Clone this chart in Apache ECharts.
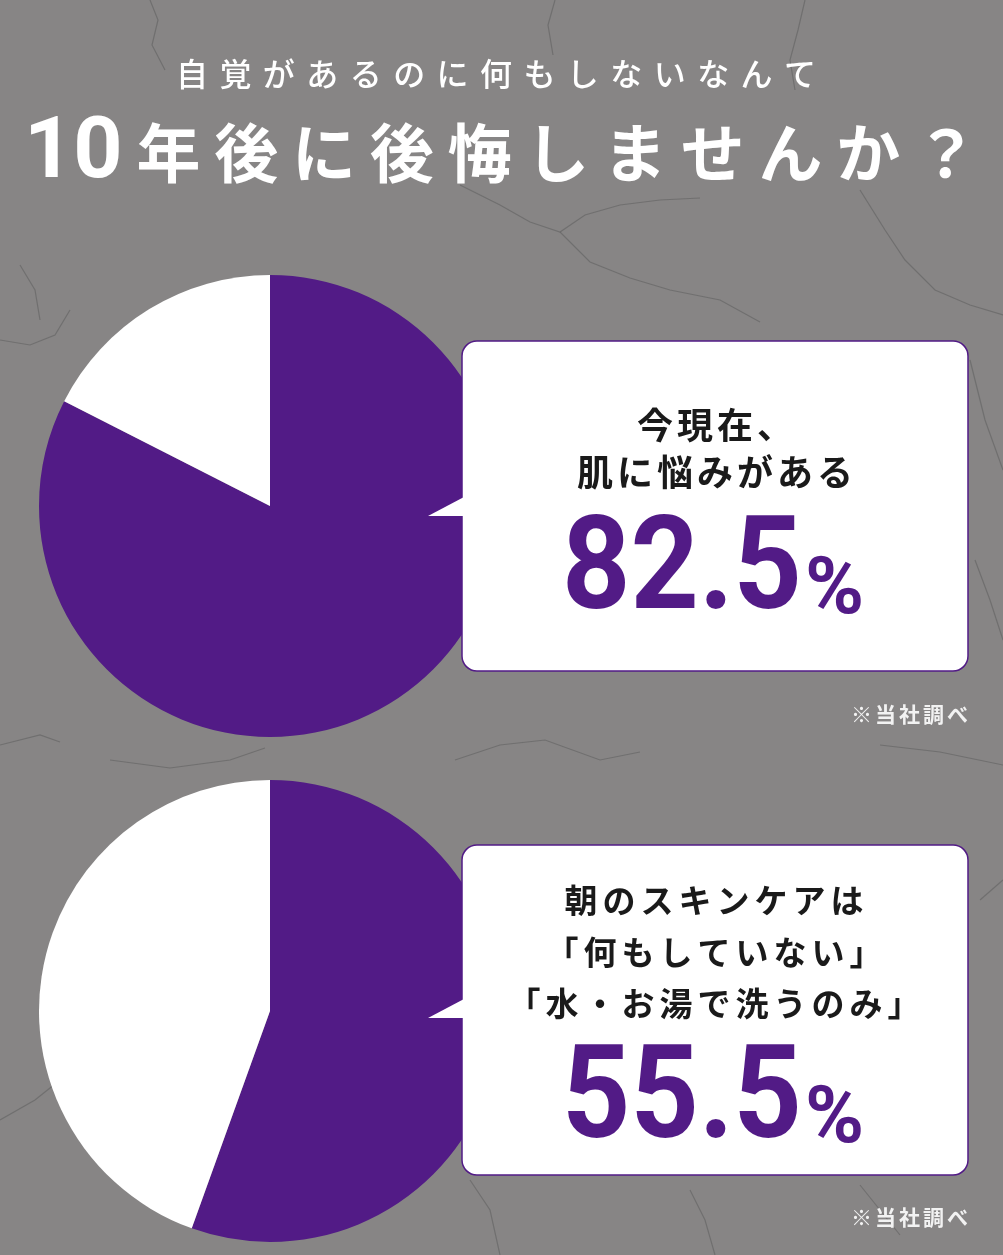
<!DOCTYPE html>
<html><head><meta charset="utf-8">
<script src="https://cdn.jsdelivr.net/npm/echarts@6/dist/echarts.min.js"></script>
<style>html,body{margin:0;padding:0;background:#878585;}#chart{width:1003px;height:1255px;}</style>
</head><body><div id="chart"></div>
<script>
// ---- data ----
const headline = ['自覚があるのに何もしないなんて', '10年後に後悔しませんか？'];
const sliceNames = ['該当する', '該当しない'];
const survey1Values = [82.5, 17.5];
const survey2Values = [55.5, 44.5];
const question1Lines = ['今現在、', '肌に悩みがある'];
const question2Lines = ['朝のスキンケアは', '「何もしていない」', '「水・お湯で洗うのみ」'];
const sourceNote = '※当社調べ';

// ---- styles ----
const PURPLE = '#521b86';
const BG = '#878585';
const JP = '"Noto Sans CJK JP", "Noto Sans", sans-serif';
const NUM = 'Roboto, "Noto Sans", sans-serif';

const ctx = document.createElement('canvas').getContext('2d');
function measure(text, font){ ctx.font = font; return ctx.measureText(text).width; }

function spacedText(str, o) {
  const font = (o.weight || 'normal') + ' ' + o.size + 'px ' + (o.family || JP);
  const numFont = o.numSize ? ('bold ' + o.numSize + 'px ' + NUM) : font;
  const tokens = o.numSize ? str.match(/[0-9]+|./gu) : Array.from(str);
  const fonts = tokens.map(t => /^[0-9]+$/.test(t) ? numFont : font);
  const widths = tokens.map((t, i) => measure(t, fonts[i]));
  const sum = widths.reduce((a, b) => a + b, 0);
  let spacing = o.spacing || 0;
  if (o.width) spacing = (o.width - sum) / (tokens.length - 1);
  const total = sum + spacing * (tokens.length - 1);
  const start = o.align === 'left' ? o.x : (o.align === 'right' ? o.x - total : o.x - total / 2);
  const out = [];
  let pos = start;
  tokens.forEach((t, i) => {
    const isNum = fonts[i] !== font;
    out.push({type: 'text', z: 100, x: pos, y: o.y + (isNum ? (o.numDy || 0) : 0), silent: true,
      style: {text: t, font: fonts[i], fill: o.color, textAlign: 'left', textVerticalAlign: 'middle', align: 'left', verticalAlign: 'middle'}});
    pos += widths[i] + spacing;
  });
  return out;
}

function callout(top, bottom, tipY) {
  return [
    {type: 'rect', z: 50, silent: true, shape: {x: 462, y: top, width: 506, height: bottom - top, r: 15},
      style: {fill: '#ffffff', stroke: PURPLE, lineWidth: 1.5}},
    {type: 'polygon', z: 51, silent: true, shape: {points: [[464, tipY - 19], [428, tipY], [464, tipY]]},
      style: {fill: '#ffffff'}}
  ];
}

function bigPercent(value, yBottom) {
  const numStr = value.toFixed(1);
  const fNum = 'bold 130px ' + NUM;
  const w = measure(numStr, fNum);
  return [
    {type: 'text', z: 60, x: 802, y: yBottom, scaleX: 240 / w, silent: true,
      style: {text: numStr, font: fNum, fill: PURPLE, textAlign: 'right', textVerticalAlign: 'bottom', align: 'right', verticalAlign: 'bottom'}},
    {type: 'text', z: 60, x: 805, y: yBottom - 7, silent: true,
      style: {text: '%', font: 'bold 80px ' + NUM, fill: PURPLE, textAlign: 'left', textVerticalAlign: 'bottom', align: 'left', verticalAlign: 'bottom'}}
  ];
}

const cracks = [
  [[150,0],[158,20],[152,45],[165,70]],
  [[555,0],[548,25],[553,55]],
  [[805,0],[798,30],[790,60],[795,90]],
  [[460,185],[500,205],[530,222],[560,232],[585,215],[620,205],[660,200],[700,198]],
  [[560,232],[590,262],[630,278],[670,290],[720,300],[760,322]],
  [[860,190],[885,230],[905,260],[935,290],[970,305],[1003,315]],
  [[0,340],[30,345],[55,335],[70,310]],
  [[20,265],[35,290],[40,320]],
  [[0,745],[40,735],[60,742]],
  [[110,760],[170,768],[230,760],[265,748]],
  [[455,760],[500,745],[545,740],[600,760],[640,752]],
  [[880,745],[940,752],[1003,765]],
  [[0,1120],[35,1100],[60,1080]],
  [[470,1180],[490,1210],[500,1255]],
  [[690,1190],[705,1220],[715,1255]],
  [[860,1185],[880,1210],[900,1235]],
  [[970,360],[985,420],[1003,470]],
  [[975,560],[990,600],[1003,640]],
  [[980,900],[1003,880]]
];

function pieSeries(name, values, center) {
  return {
    type: 'pie', name: name, center: center, radius: 231, startAngle: 90, clockwise: true,
    silent: true, animation: false, avoidLabelOverlap: false,
    label: {show: false}, labelLine: {show: false}, emphasis: {disabled: true},
    itemStyle: {borderWidth: 0},
    data: values.map((v, i) => ({name: sliceNames[i], value: v, itemStyle: {color: i === 0 ? PURPLE : '#ffffff'}}))
  };
}

let elements = [];
cracks.forEach(pts => elements.push({type: 'polyline', z: 1, silent: true, shape: {points: pts},
  style: {stroke: '#616060', lineWidth: 1.2, fill: null, opacity: 0.6}}));

elements = elements.concat(spacedText(headline[0], {x: 176, y: 74, size: 32, weight: 500, color: '#ffffff', align: 'left', width: 640}));
elements = elements.concat(spacedText(headline[1], {x: 24, y: 153, size: 64, weight: 'bold', color: '#ffffff', align: 'left', width: 954, numSize: 86, numDy: 2}));

elements = elements.concat(callout(341, 671, 516));
elements = elements.concat(callout(845, 1175, 1018));

elements = elements.concat(spacedText(question1Lines[0], {x: 715, y: 425, size: 36, weight: 'bold', color: '#1a1a1a', spacing: 4}));
elements = elements.concat(spacedText(question1Lines[1], {x: 715, y: 472, size: 36, weight: 'bold', color: '#1a1a1a', spacing: 4}));
elements = elements.concat(bigPercent(survey1Values[0], 640));

question2Lines.forEach((line, i) => {
  elements = elements.concat(spacedText(line, {x: 714, y: [900, 952, 1003][i], size: 33, weight: 'bold', color: '#1a1a1a', spacing: 5}));
});
elements = elements.concat(bigPercent(survey2Values[0], 1169));

elements = elements.concat(spacedText(sourceNote, {x: 968, y: 714, size: 21, weight: 'bold', color: '#f2f2f2', spacing: 3, align: 'right'}));
elements = elements.concat(spacedText(sourceNote, {x: 968, y: 1217, size: 21, weight: 'bold', color: '#f2f2f2', spacing: 3, align: 'right'}));

const chart = echarts.init(document.getElementById('chart'), null, {renderer: 'canvas'});
chart.setOption({
  backgroundColor: BG,
  animation: false,
  series: [
    pieSeries('今現在、肌に悩みがある', survey1Values, [270, 506]),
    pieSeries('朝のスキンケア', survey2Values, [270, 1011])
  ],
  graphic: {elements: elements}
});
</script></body></html>
